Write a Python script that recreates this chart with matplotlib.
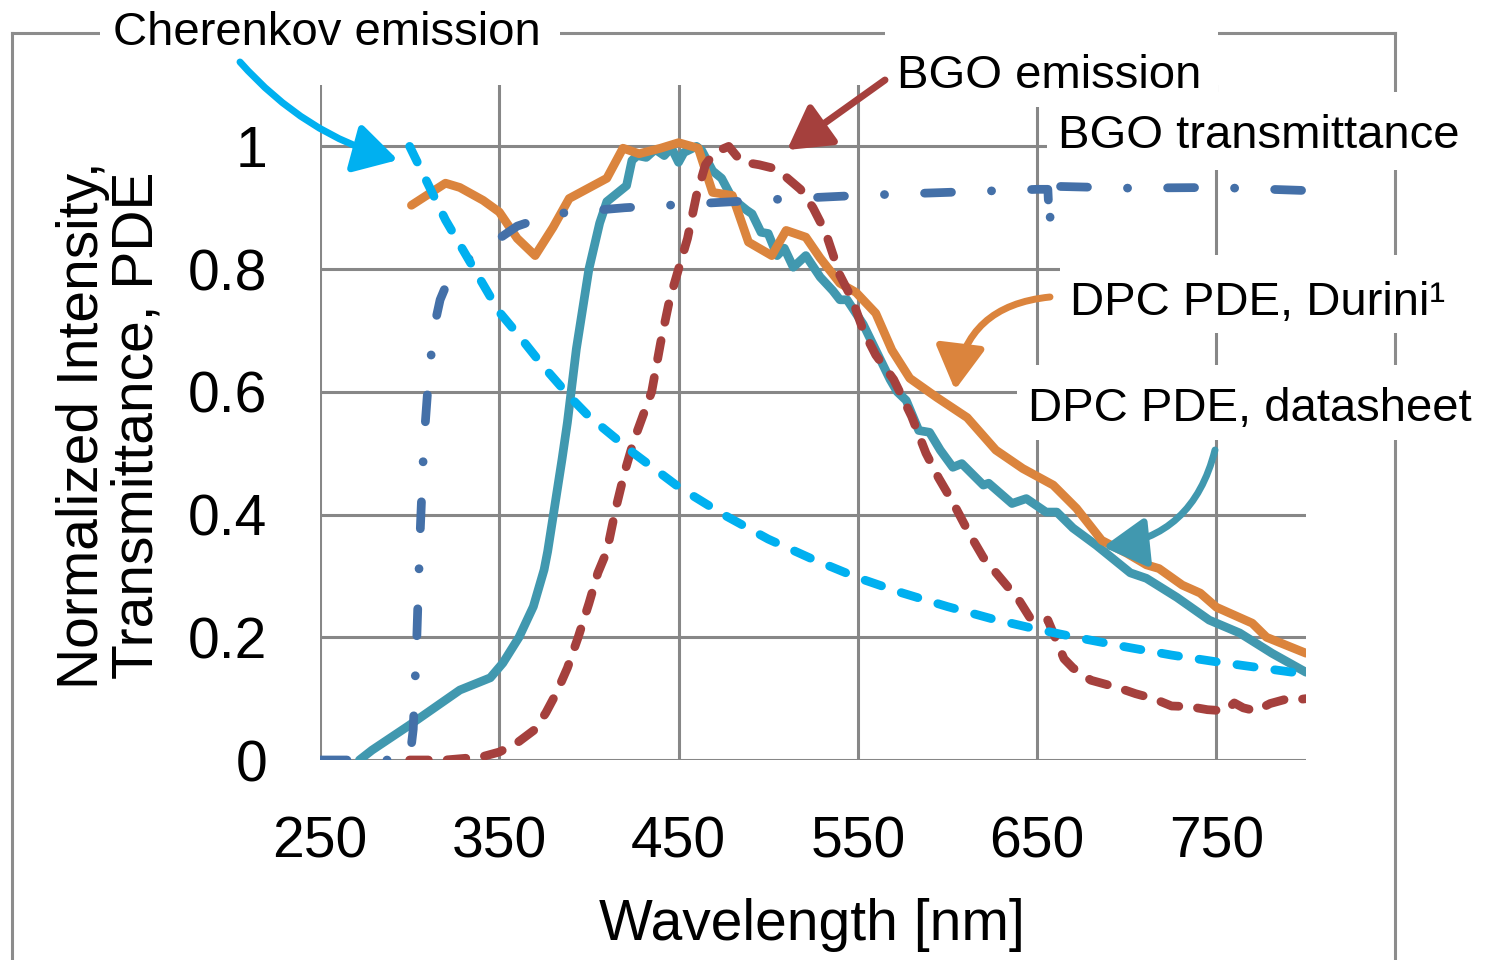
import matplotlib
matplotlib.use("Agg")
import matplotlib.pyplot as plt
from matplotlib.patches import Rectangle, FancyArrowPatch, ArrowStyle
from matplotlib.lines import Line2D

plt.rcParams['font.family'] = ['Liberation Sans', 'DejaVu Sans']
plt.rcParams['lines.scale_dashes'] = False

# ---------------- data ----------------
x_ticks = [250, 350, 450, 550, 650, 750]
y_ticks = [0, 0.2, 0.4, 0.6, 0.8, 1.0]
y_tick_labels = ['0', '0.2', '0.4', '0.6', '0.8', '1']

# Cherenkov emission
cher_wl = [300, 310, 320, 330, 340, 350, 360, 375, 390, 400, 425, 450, 475, 500,
           525, 550, 575, 600, 625, 650, 675, 700, 725, 750, 775, 800]
cher_val = [1.0, 0.94, 0.88, 0.83, 0.78, 0.73, 0.695, 0.64, 0.59, 0.56, 0.50, 0.445,
            0.40, 0.36, 0.327, 0.297, 0.272, 0.25, 0.23, 0.213, 0.198, 0.184, 0.171,
            0.16, 0.15, 0.14]

# BGO emission
bgoe_wl = [300, 320, 340, 350, 360, 370, 376, 382, 388, 394, 400, 405, 410, 415, 420,
           425, 430, 435, 440, 445, 450, 455, 460, 465, 470, 478, 485, 495, 502, 510,
           518, 525, 532, 540, 547, 553, 560, 570, 580, 588, 595, 603, 612, 620, 630,
           640, 646, 652, 656, 660, 665, 670, 680, 695, 705, 715, 725, 735, 745, 755,
           760, 765, 772, 780, 790, 795, 800]
bgoe_val = [0.0, 0.0, 0.005, 0.013, 0.028, 0.05, 0.077, 0.11, 0.15, 0.2, 0.255, 0.305,
            0.34, 0.41, 0.47, 0.52, 0.56, 0.60, 0.68, 0.75, 0.80, 0.85, 0.92, 0.97,
            0.99, 1.0, 0.975, 0.97, 0.965, 0.95, 0.93, 0.90, 0.86, 0.79, 0.75, 0.70,
            0.66, 0.62, 0.56, 0.50, 0.46, 0.42, 0.37, 0.33, 0.295, 0.26, 0.232, 0.227,
            0.228, 0.20, 0.165, 0.15, 0.13, 0.118, 0.108, 0.10, 0.088, 0.087, 0.082,
            0.08, 0.093, 0.085, 0.08, 0.092, 0.10, 0.098, 0.10]

# BGO transmittance
bgot_wl = [250, 280, 300, 302, 304, 306, 308, 310, 312, 314, 317, 322, 330, 340, 350,
           360, 370, 380, 400, 420, 450, 500, 550, 600, 650, 656, 657, 658, 700, 750, 800]
bgot_val = [0.0, 0.0, 0.0, 0.05, 0.2, 0.38, 0.52, 0.60, 0.66, 0.71, 0.75, 0.785, 0.81,
            0.83, 0.85, 0.87, 0.88, 0.89, 0.895, 0.90, 0.905, 0.913, 0.92, 0.925, 0.93,
            0.93, 0.866, 0.935, 0.932, 0.933, 0.928]

# DPC PDE, datasheet
dpcd_wl = [272, 279, 300, 328, 345, 352, 361, 369, 375, 377, 385, 388, 393, 400, 406,
           410, 421, 424, 427, 432, 437, 442, 446, 450, 453, 460, 463, 469, 474, 480,
           488, 491, 496, 500, 505, 509, 514, 521, 529, 536, 540, 544, 553, 560, 568,
           572, 577, 584, 590, 596, 603, 608, 620, 623, 636, 644, 655, 661, 670, 683,
           702, 711, 728, 746, 763, 781, 800]
dpcd_val = [0.0, 0.016, 0.057, 0.114, 0.134, 0.158, 0.20, 0.25, 0.31, 0.34, 0.49, 0.55,
            0.67, 0.80, 0.875, 0.91, 0.936, 0.977, 0.985, 0.982, 0.995, 0.985, 0.998,
            0.974, 0.99, 1.0, 0.993, 0.96, 0.948, 0.915, 0.896, 0.89, 0.86, 0.858, 0.822,
            0.834, 0.803, 0.822, 0.787, 0.765, 0.75, 0.75, 0.71, 0.668, 0.62, 0.60,
            0.586, 0.537, 0.534, 0.505, 0.477, 0.483, 0.448, 0.451, 0.418, 0.426, 0.404,
            0.404, 0.378, 0.35, 0.305, 0.296, 0.265, 0.228, 0.207, 0.174, 0.143]

# DPC PDE, Durini
dpcu_wl = [301, 320, 328, 341, 350, 360, 370, 380, 389, 410, 419, 428, 440, 450, 461,
           469, 480, 489, 502, 510, 521, 529, 540, 549, 560, 569, 579, 594, 611, 627,
           642, 659, 672, 686, 700, 711, 718, 731, 741, 750, 770, 778, 800]
dpcu_val = [0.904, 0.94, 0.933, 0.912, 0.893, 0.85, 0.822, 0.868, 0.915, 0.948, 0.997,
            0.988, 0.997, 1.006, 0.997, 0.925, 0.92, 0.844, 0.822, 0.863, 0.852, 0.818,
            0.777, 0.762, 0.728, 0.668, 0.622, 0.591, 0.558, 0.505, 0.475, 0.448, 0.41,
            0.358, 0.337, 0.318, 0.312, 0.285, 0.272, 0.249, 0.223, 0.20, 0.174]

# ---------------- figure ----------------
W, H = 1495, 960
fig = plt.figure(figsize=(W / 100, H / 100), dpi=100)
fig.patch.set_facecolor('white')

def fx(px):
    return px / W

def fy(py):
    return 1 - py / H

ax = fig.add_axes([fx(320), fy(760), fx(1306) - fx(320), fy(85) - fy(760)])
ax.set_xlim(250, 800)
ax.set_ylim(0, 1.1)
for s in ax.spines.values():
    s.set_visible(False)
grid_col = '#878787'
ax.set_xticks(x_ticks)
ax.set_yticks(y_ticks)
ax.set_yticklabels(y_tick_labels)
ax.grid(True, color=grid_col, lw=2.2)
ax.set_axisbelow(True)
ax.tick_params(length=0, labelsize=41, pad=40)
ax.tick_params(axis='y', pad=38)

lw = 6.3
ax.plot(dpcd_wl, dpcd_val, color='#4198AF', lw=lw, solid_joinstyle='round',
        solid_capstyle='round', zorder=2)
ax.plot(dpcu_wl, dpcu_val, color='#DB843D', lw=lw, solid_joinstyle='round',
        solid_capstyle='round', zorder=3)
ax.plot(bgot_wl, bgot_val, color='#4470A8', lw=lw, dash_capstyle='round',
        dash_joinstyle='round', linestyle=(0, (19.4, 28.8, 0.1, 28.8)), zorder=4)
ax.plot(bgoe_wl, bgoe_val, color='#A5403D', lw=lw, dash_capstyle='round',
        dash_joinstyle='round', linestyle=(0, (13.5, 13.5)), zorder=5)
ax.plot(cher_wl, cher_val, color='#00B0F0', lw=lw, dash_capstyle='round',
        dash_joinstyle='round', linestyle=(0, (12.5, 15)), zorder=6)

# outer frame
frame_col = '#8C8C8C'
for xs, ys in [((12, 12), (33, 960)), ((12, 1395), (33, 33)), ((1395, 1395), (33, 960))]:
    fig.add_artist(Line2D([fx(v) for v in xs], [fy(v) for v in ys], color=frame_col,
                          lw=2.2, zorder=1))

# label boxes
boxes = [(100, 3, 560, 55), (885, 25, 1218, 107), (1047, 92, 1478, 170),
         (1060, 255, 1462, 333), (1017, 365, 1492, 440)]
for x0, y0, x1, y1 in boxes:
    fig.add_artist(Rectangle((fx(x0), fy(y1)), fx(x1) - fx(x0), fy(y0) - fy(y1),
                             transform=fig.transFigure, facecolor='white',
                             edgecolor='none', zorder=2))

labels = [("Cherenkov emission", 113, 45), ("BGO emission", 897, 88),
          ("BGO transmittance", 1058, 148), ("DPC PDE, Durini\u00b9", 1070, 315),
          ("DPC PDE, datasheet", 1028, 421)]
for txt, x, y in labels:
    fig.text(fx(x), fy(y), txt, fontsize=34, ha='left', va='baseline', zorder=3)

# axis titles
fig.text(fx(812), fy(940), "Wavelength [nm]", fontsize=41, ha='center', va='baseline')
fig.text(fx(110), fy(425), "Normalized Intensity,\nTransmittance, PDE", fontsize=41,
         rotation=90, ha='center', va='center', multialignment='center', linespacing=1.0)

# arrows
def arrow(p0, p1, col, rad):
    a = FancyArrowPatch((fx(p0[0]), fy(p0[1])), (fx(p1[0]), fy(p1[1])),
                        transform=fig.transFigure,
                        arrowstyle=ArrowStyle('-|>', head_length=1.05, head_width=0.6),
                        mutation_scale=25, connectionstyle=f"arc3,rad={rad}",
                        color=col, lw=5, shrinkA=0, shrinkB=0, zorder=4,
                        capstyle='round')
    fig.add_artist(a)

arrow((240, 62), (398, 160), '#00B0F0', 0.15)
arrow((885, 80), (787, 150), '#A5403D', 0.0)
arrow((1050, 297), (955, 390), '#DB843D', 0.4)
arrow((1215, 450), (1103, 547), '#4198AF', -0.35)

fig.savefig('out.png', dpi=100, facecolor='white')
